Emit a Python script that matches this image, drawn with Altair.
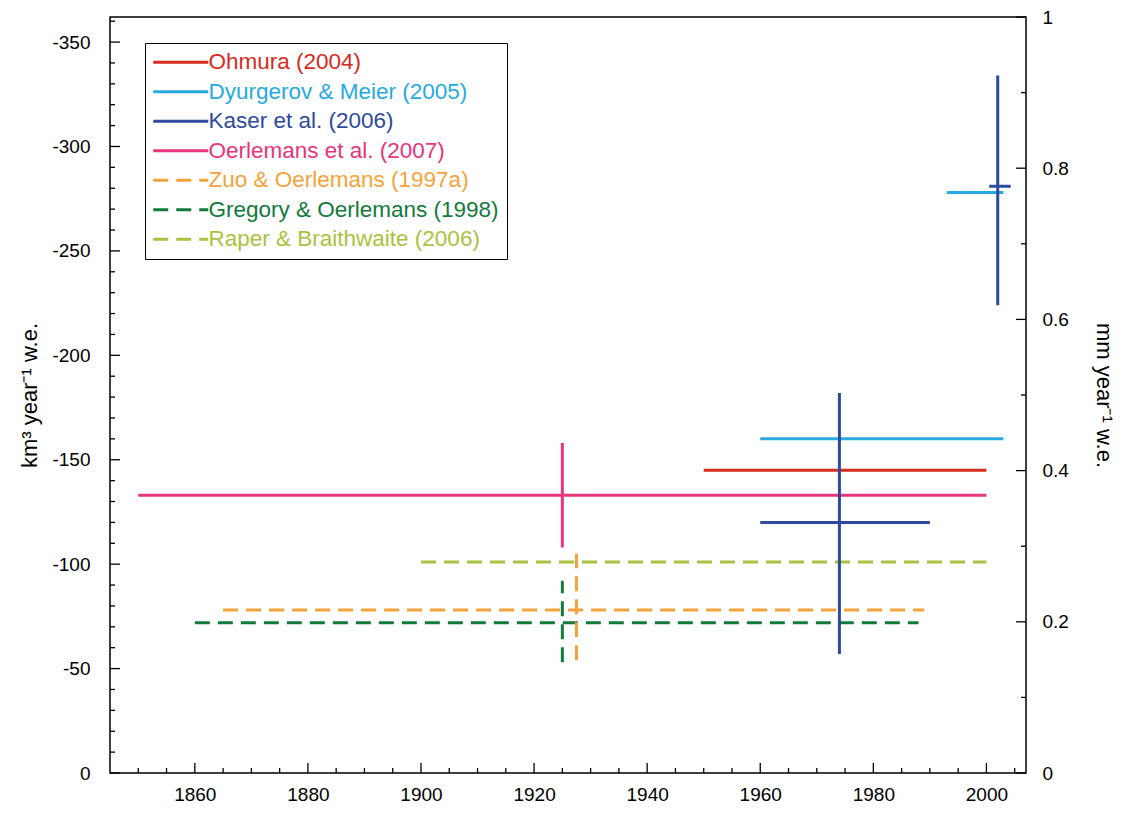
import altair as alt
import pandas as pd

FONT = "Liberation Sans"

series = ["Ohmura (2004)", "Dyurgerov & Meier (2005)", "Kaser et al. (2006)",
          "Oerlemans et al. (2007)", "Zuo & Oerlemans (1997a)",
          "Gregory & Oerlemans (1998)", "Raper & Braithwaite (2006)"]
colors = ["#d62b21", "#27aae1", "#2e4a9e", "#e8347b", "#f6a23a", "#137a3c", "#a9c240"]
dash_patterns = [[1, 0], [1, 0], [1, 0], [1, 0], [15, 8], [15, 8], [15, 8]]

# horizontal (period) segments
h_name = ["Ohmura (2004)", "Dyurgerov & Meier (2005)", "Dyurgerov & Meier (2005)",
          "Kaser et al. (2006)", "Kaser et al. (2006)", "Oerlemans et al. (2007)",
          "Zuo & Oerlemans (1997a)", "Gregory & Oerlemans (1998)", "Raper & Braithwaite (2006)"]
h_start = [1950, 1960, 1993, 1960, 2000.5, 1850, 1865, 1860, 1900]
h_end = [2000, 2003, 2003, 1990, 2004.3, 2000, 1989, 1988, 2000]
h_value = [-145, -160, -278, -120, -281, -133, -78, -72, -101]

# vertical (uncertainty) segments
v_name = ["Kaser et al. (2006)", "Kaser et al. (2006)", "Oerlemans et al. (2007)",
          "Zuo & Oerlemans (1997a)", "Gregory & Oerlemans (1998)"]
v_year = [1974, 2002, 1925, 1927.5, 1925]
v_low = [-57, -224, -108, -54, -53]
v_high = [-182, -334, -158, -105, -92]

# axis ticks / labels
x_labels = [1860, 1880, 1900, 1920, 1940, 1960, 1980, 2000]
x_minor = list(range(1850, 2006, 5))
y_labels = [-350, -300, -250, -200, -150, -100, -50, 0]
y_minor = list(range(0, -361, -10))
mm_labels = [0, 0.2, 0.4, 0.6, 0.8, 1]
mm_minor = [0, 0.1, 0.2, 0.3, 0.4, 0.5, 0.6, 0.7, 0.8, 0.9, 1.0]

W, H = 916, 756
MAJ, MIN = 10, 5

h_df = pd.DataFrame({"name": h_name, "start": h_start, "end": h_end, "value": h_value})
v_df = pd.DataFrame({"name": v_name, "year": v_year, "lo": v_low, "hi": v_high})

xscale = alt.Scale(domain=[1845, 2007], nice=False, zero=False)
yscale = alt.Scale(domain=[-362, 0], reverse=True, nice=False, zero=False)
mmscale = alt.Scale(domain=[0, 1], nice=False, zero=False)

common_axis = dict(ticks=False, domain=False, grid=False, labelFont=FONT, labelFontSize=19,
                   labelColor="black", titleFont=FONT, titleFontSize=22,
                   titleFontWeight="normal", titleColor="black")

xaxis = alt.Axis(values=x_labels, labelExpr="'' + datum.value", title=None,
                 labelPadding=12, **common_axis)
yaxis = alt.Axis(values=y_labels, labelExpr="'' + datum.value", orient="left",
                 title="km³ year⁻¹ w.e.", labelPadding=20, titlePadding=10, **common_axis)
mmaxis = alt.Axis(values=mm_labels, labelExpr="'' + datum.value", orient="right",
                  title="mm year⁻¹ w.e.", labelPadding=16, titlePadding=23, **common_axis)

label_color_expr = ""
for s, c in zip(series, colors):
    label_color_expr += f"datum.label === '{s}' ? '{c}' : "
label_color_expr += "'black'"


def make_legend():
    return alt.Legend(title=None, orient="none", legendX=35, legendY=26,
                      fillColor="white", strokeColor="black",
                      padding=8, labelFont=FONT, labelFontSize=22.5,
                      labelColor={"expr": label_color_expr},
                      symbolType="M-2,0H8", symbolSize=121,
                      symbolStrokeWidth=3, labelOffset=33,
                      rowPadding=6.5, labelLimit=400)


color_enc = alt.Color("name:N", scale=alt.Scale(domain=series, range=colors), legend=make_legend())
dash_enc = alt.StrokeDash("name:N", scale=alt.Scale(domain=series, range=dash_patterns),
                          legend=make_legend())

horiz = alt.Chart(h_df).mark_rule(strokeWidth=3).encode(
    x=alt.X("start:Q", scale=xscale, axis=xaxis),
    x2="end:Q",
    y=alt.Y("value:Q", scale=yscale, axis=yaxis),
    color=color_enc,
    strokeDash=dash_enc,
)
vert = alt.Chart(v_df).mark_rule(strokeWidth=3).encode(
    x=alt.X("year:Q", scale=xscale, axis=xaxis),
    y=alt.Y("lo:Q", scale=yscale, axis=yaxis),
    y2="hi:Q",
    color=color_enc,
    strokeDash=dash_enc,
)

yt_df = pd.DataFrame({"v": y_minor, "len": [MAJ if v % 50 == 0 else MIN for v in y_minor]})
left_major = alt.Chart(yt_df[yt_df["len"] == MAJ]).mark_rule(color="black", strokeWidth=1.3).encode(
    y=alt.Y("v:Q", scale=yscale, axis=yaxis), x=alt.value(0), x2=alt.value(MAJ))
left_minor = alt.Chart(yt_df[yt_df["len"] == MIN]).mark_rule(color="black", strokeWidth=1.3).encode(
    y=alt.Y("v:Q", scale=yscale, axis=yaxis), x=alt.value(0), x2=alt.value(MIN))

xt_df = pd.DataFrame({"yr": x_minor})
bottom_major = alt.Chart(xt_df[xt_df["yr"].isin(x_labels)]).mark_rule(color="black", strokeWidth=1.3).encode(
    x=alt.X("yr:Q", scale=xscale, axis=xaxis), y=alt.value(H), y2=alt.value(H - MAJ))
bottom_minor = alt.Chart(xt_df[~xt_df["yr"].isin(x_labels)]).mark_rule(color="black", strokeWidth=1.3).encode(
    x=alt.X("yr:Q", scale=xscale, axis=xaxis), y=alt.value(H), y2=alt.value(H - MIN))

mt_df = pd.DataFrame({"mm": mm_minor, "major": [i % 2 == 0 for i in range(len(mm_minor))]})
right_major = alt.Chart(mt_df[mt_df["major"]]).mark_rule(color="black", strokeWidth=1.3).encode(
    y=alt.Y("mm:Q", scale=mmscale, axis=mmaxis), x=alt.value(W), x2=alt.value(W - MAJ))
right_minor = alt.Chart(mt_df[~mt_df["major"]]).mark_rule(color="black", strokeWidth=1.3).encode(
    y=alt.Y("mm:Q", scale=mmscale, axis=mmaxis), x=alt.value(W), x2=alt.value(W - MIN))

left_group = alt.layer(left_major, left_minor, bottom_major, bottom_minor, horiz, vert)
right_group = alt.layer(right_major, right_minor)

chart = alt.layer(left_group, right_group).resolve_scale(y="independent").properties(
    width=W, height=H, padding={"left": 10, "top": 0, "right": 3, "bottom": 0},
    background="white",
).configure_view(stroke="black", strokeWidth=1.5)

chart.save("out.html", embed_options={"renderer": "svg", "actions": False})
